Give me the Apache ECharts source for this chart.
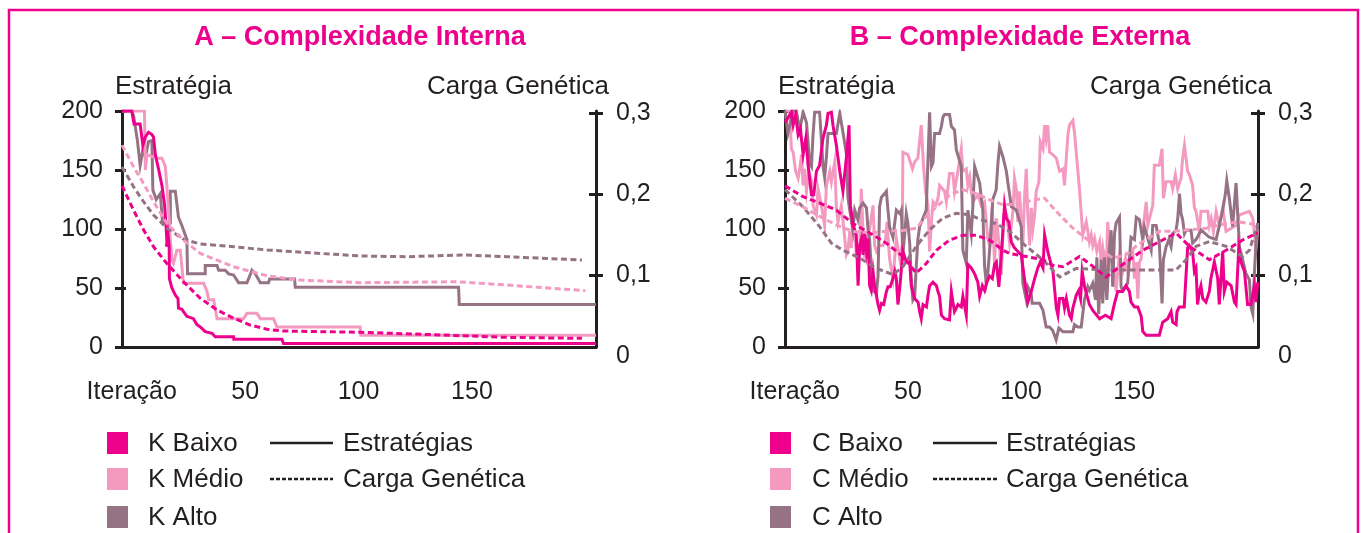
<!DOCTYPE html>
<html>
<head>
<meta charset="utf-8">
<script src="https://cdn.jsdelivr.net/npm/echarts@6/dist/echarts.min.js"></script>
<style>
html,body{margin:0;padding:0;background:#fff;}
#c{width:1364px;height:533px;}
</style>
</head>
<body>
<div id="c"></div>
<script>
// ---------- DATA ----------
const xTickValues = [0, 50, 100, 150];
const xZeroLabel = 'Iteração';
const leftTicks = { min: 0, max: 200, interval: 50 };
const rightRange = { min: 0.0117, max: 0.3031 };
const rightTickValues = [0.1, 0.2, 0.3];
const rightZeroLabel = '0';

const seriesNamesA = ['K Baixo', 'K Médio', 'K Alto'];
const seriesNamesB = ['C Baixo', 'C Médio', 'C Alto'];
const lineKeyNames = ['Estratégias', 'Carga Genética'];

// Panel A – Estratégias (left axis)
const kBaixoEstr = [[-4.3,200],[0,200],[1,189],[3.7,189],[4.9,171],[6,178],[7.4,182],[8.9,180],[9.6,178],[10.4,163],[11.8,151],[13.3,137],[14.5,120],[15.1,103],[15.5,89],[15.3,85],[16,95],[16.5,86],[16.6,58],[17.7,50],[19.2,44],[20.4,41],[20.6,33],[22.1,32],[22.8,30],[23.6,31],[24.3,26],[27.2,24],[28.7,19],[30.2,17],[32.4,13],[35.4,11.6],[36.8,8.7],[44.9,8.7],[45,6.5],[66.2,6.5],[66.9,3],[204.7,3]];
const kMedioEstr = [[-4.3,200],[5.6,200],[6,150],[6.7,163],[11.1,160],[13.3,160],[14.8,153],[15.5,136],[16.2,116],[17,91],[17.7,74],[18.4,71],[19.9,82],[21.4,82],[22.1,68],[22.8,54],[31.7,54],[33.2,47],[33.9,40],[36.1,40],[37.6,24],[49.3,24],[50.8,28.5],[55.2,28.5],[56.7,24],[62.5,24],[64,17],[100.7,17],[101,10],[204.7,10]];
const kAltoEstr = [[-4.3,200],[0,200],[0.8,196],[2.5,175],[3.7,154],[4.9,167],[6,161],[7.4,174],[8.9,175],[9.3,133],[10.8,125],[12.6,130],[13.6,105],[17,105],[17,132],[19.2,132],[20.6,110],[22.1,103],[24.3,91],[24.6,62],[32.4,62],[32.4,69],[37.6,69],[38.3,65],[41.2,65],[42.7,62],[44.9,61],[47.1,54.5],[50.8,54.5],[53,65],[54.5,62],[56.7,54.5],[60.3,54.5],[60.8,57.6],[71.8,57.6],[72.1,50.6],[144.1,50.6],[144.4,36],[204.7,36]];
// Panel A – Carga Genética (right axis)
const kBaixoCarga = [[-4.3,0.2108],[0.8,0.1807],[5.2,0.1564],[9.6,0.1355],[15.5,0.1147],[22.8,0.0923],[30.2,0.0719],[37.6,0.0574],[44.9,0.0472],[52.2,0.0389],[59.6,0.0336],[66.9,0.0314],[100.7,0.0299],[136,0.0266],[165.4,0.0236],[198.5,0.0224]];
const kMedioCarga = [[-4.3,0.261],[0.8,0.2341],[5.2,0.2137],[9.6,0.1911],[15.5,0.1642],[22.8,0.1438],[30.2,0.1273],[44.9,0.1108],[59.6,0.0997],[74.3,0.0943],[100.7,0.0911],[143.4,0.0923],[165.4,0.0882],[200,0.0812]];
const kAltoCarga = [[-4.3,0.2341],[0.8,0.2096],[5.2,0.1911],[9.6,0.1747],[15.5,0.1584],[22.8,0.1448],[30.2,0.1389],[44.9,0.1355],[59.6,0.1315],[100.7,0.1241],[121.3,0.1232],[146.3,0.1253],[165.4,0.1232],[198.5,0.1191]];

// Panel B – Estratégias (left axis)
const cBaixoEstr = [[-4.3,190],[-1.5,199],[-0.7,188],[0.4,197],[1.5,180],[2.5,185],[3.7,163],[4.9,177],[5.9,154],[7.4,129],[8.4,129],[9.6,149],[11,154],[12.5,177],[14,188],[14.7,198],[16.2,199],[16.9,188],[18.4,171],[19.9,149],[21.3,132],[22.8,160],[24,188],[24.6,120],[25.8,103],[27.2,95],[28,52],[28.7,86],[29.5,92],[30.2,78],[30.9,98],[31.7,81],[32.4,92],[33.1,52],[33.8,48],[34.6,64],[35.3,52],[36.8,36],[37.5,31],[38.3,37],[39.3,36],[40.5,47],[41.2,51],[42.2,51],[43.4,58],[44.2,64],[44.9,58],[45.6,36],[46.4,50],[47.8,81],[49.3,72],[50.8,72],[51.5,52],[53,41],[54.5,38],[55.2,30],[55.9,24],[56.7,36],[58.2,34],[58.9,44],[59.6,52],[61.1,55],[62.6,52],[63.3,47],[64,43],[64.8,27],[66.2,24],[68.4,23],[69.2,47],[69.9,38],[70.6,30],[71.4,33],[72.1,36],[73.6,34],[74.3,43],[75.1,43],[75.8,27],[76.5,70],[78,67],[79.5,62],[80.9,55],[81.7,43],[82.9,52],[83.9,48],[84.9,55],[86.1,60],[87.3,58],[88.3,70],[89.1,72],[90.2,51],[91.3,78],[92.7,120],[93.5,109],[94.6,106],[95.7,89],[97.1,84],[98.6,81],[100.1,78],[101.5,58],[102.3,47],[103,38],[104.5,47],[106,58],[107.4,67],[108.5,72],[109.7,67],[110.4,95],[111.8,81],[114.1,64],[115.6,33],[116.3,27],[117,41],[118.5,41],[119.2,33],[120,41],[121.4,27],[122.2,24],[122.9,33],[124.4,44],[125.5,48],[126.3,41],[127,64],[128.1,51],[129.5,41],[130.2,36],[131.7,31],[134.7,24],[137.3,27],[139.8,24],[141.3,37],[142.7,47],[144.9,47],[146.4,52],[147.9,47],[148.6,38],[150.1,34],[151.6,34],[153.1,26],[153.8,13],[155.3,10],[161.1,10],[162.6,21],[164.8,24],[166.3,30],[167,21],[168.5,19],[168.9,30],[169.9,34],[172.1,34],[173.6,84],[174.3,86],[175.8,81],[176.6,64],[177.3,67],[178,36],[178.8,47],[179.5,52],[180.3,41],[181.7,38],[183.2,47],[183.9,58],[185.4,72],[186.9,58],[187.6,36],[189.1,81],[189.8,47],[190.9,55],[192.8,52],[194.3,38],[195,36],[196.2,84],[197.2,72],[198.7,64],[200.1,36],[201.6,36],[203.1,52],[203.8,38],[204.6,55]];
const cMedioEstr = [[-4.3,200],[-2.2,200],[-1.5,168],[-0.7,165],[0.4,149],[1.5,143],[2.2,151],[3,163],[3.7,137],[4.4,151],[5.2,132],[6.3,149],[7.4,140],[8.1,120],[9.6,112],[10.3,134],[11.8,120],[13.2,103],[14,137],[15.5,149],[16.2,140],[17.7,157],[18.4,118],[19.1,106],[20.6,120],[22.1,92],[22.8,78],[23.5,81],[24.3,98],[25,84],[25.7,109],[26.5,98],[27.2,78],[28.7,81],[29.4,134],[30.2,98],[30.9,75],[31.7,86],[33.1,100],[34.6,120],[35.3,86],[36.1,81],[37.5,86],[39,86],[40.2,92],[40.8,106],[41.9,75],[43.4,58],[44.9,92],[46.4,75],[47.5,86],[47.8,165],[50,163],[52,151],[53,157],[54.4,160],[55.9,188],[57,151],[57.8,132],[58.9,120],[59.6,81],[60.4,106],[61.1,123],[62.3,120],[63.3,126],[64,137],[66.2,132],[67,123],[68.4,147],[69.9,147],[70.6,132],[72.1,149],[73.6,168],[74.3,149],[75.8,151],[76.5,137],[77.3,144],[78,132],[78.7,123],[80.9,129],[82.4,120],[83.9,123],[85.3,92],[86.1,86],[87.3,120],[88.3,70],[89.1,109],[90.5,84],[91.3,61],[92.3,112],[93.7,112],[94.9,89],[96.4,115],[97.1,143],[97.9,134],[98.6,106],[99.3,132],[100.1,106],[100.8,86],[101.5,126],[102.3,151],[103,112],[103.8,86],[104.5,118],[105.2,100],[106,112],[106.7,132],[107.9,140],[108.5,174],[109.7,168],[110.4,188],[111.1,177],[111.8,188],[112.6,165],[114,163],[115.6,160],[117,149],[118.5,151],[119.2,137],[120,160],[120.7,180],[121.4,188],[122.9,192],[123.6,182],[125.8,134],[127.3,95],[128.8,106],[129.5,98],[130.2,89],[131,95],[131.7,86],[132.5,92],[133.5,81],[134.7,89],[135.4,72],[136.1,84],[137.6,64],[138.3,106],[139.1,86],[139.8,75],[140.8,70],[142,47],[142.7,64],[143.5,78],[144.9,64],[146.1,75],[147.1,64],[147.9,75],[149.4,81],[150.1,58],[150.9,72],[151.6,41],[152.3,72],[153.1,75],[153.8,98],[155.3,123],[156,103],[158.2,120],[158.9,154],[161.1,154],[162.3,168],[162.9,126],[164.1,140],[166.3,140],[167,134],[168.2,146],[169.2,134],[170.7,143],[171.4,160],[172.2,171],[173.6,149],[174.4,146],[175.8,137],[176.6,118],[177.3,115],[178.8,98],[179.5,115],[182.5,115],[183.2,103],[184,109],[185,98],[186.2,115],[187.6,103],[189.1,118],[190.6,98],[195,103],[196.5,112],[200.9,115],[202.4,109],[203.8,84],[204.6,100]];
const cAltoEstr = [[-4.3,200],[-3,181],[-0.7,200],[0.7,200],[2.2,184],[3.7,199],[5.2,190],[6.6,156],[7.4,153],[8.1,180],[8.8,199],[11,199],[12.5,153],[13.2,144],[14,161],[14.7,181],[18.4,181],[19.9,198],[20.6,199],[21.3,182],[22.8,164],[23.5,127],[24.3,116],[25.7,99],[26.5,116],[27.9,108],[28.7,118],[30.2,122],[31.7,118],[32.4,99],[33.1,91],[33.9,62],[34.6,48],[36.1,45],[36.8,60],[37.5,119],[38.3,127],[39.7,130],[40.5,132],[41.2,116],[41.9,102],[43.4,93],[44.9,116],[46.4,113],[47.1,116],[47.8,79],[48.6,96],[49.3,113],[50,105],[50.8,88],[51.5,57],[52.2,40],[53,43],[53.7,68],[54.4,91],[55.2,102],[58.1,116],[59.6,199],[60.4,153],[61.1,156],[61.8,181],[64,181],[64.8,187],[65.5,195],[66.2,197],[68.4,197],[69.2,187],[70.6,184],[71.4,167],[73.6,153],[74.3,82],[75.8,71],[76.5,116],[78,96],[78.7,119],[79.5,153],[80.9,144],[81.7,139],[83.1,116],[83.9,68],[84.6,54],[85.3,62],[86.8,99],[87.5,125],[89,133],[89.8,156],[90.5,170],[92,161],[92.7,160],[93.5,149],[94.2,139],[94.9,130],[95.7,119],[97.9,116],[100.1,102],[100.8,54],[102.3,40],[103,51],[104.5,45],[104.9,37],[108.2,37],[109.7,31],[111.1,17],[112.6,17],[114,14],[115.5,6],[116.7,16],[118.5,13],[122.9,13],[123.6,19],[125.1,17],[126.6,17],[128,40],[129.5,51],[130.2,48],[131.7,54],[132.9,40],[133.5,76],[134.3,28],[135.4,74],[136.1,37],[136.9,76],[137.9,40],[139.1,85],[139.8,99],[140.5,51],[141.3,96],[142,105],[143.5,110],[144.2,51],[144.9,48],[147.1,54],[148.6,93],[150.1,91],[150.9,110],[152.3,108],[153.8,91],[154.5,102],[157.5,82],[158.2,103],[159.7,103],[161.1,88],[162.3,37],[162.9,74],[164.1,85],[165.3,91],[166.3,85],[167,96],[168.5,99],[169.2,108],[170,130],[170.7,113],[171.4,108],[172.2,96],[172.9,99],[175.1,99],[175.8,88],[177.3,91],[179.6,99],[183.2,93],[186.2,91],[189.1,116],[190.3,130],[190.9,141],[192.1,125],[193.5,102],[195,139],[196.5,85],[197.9,74],[199.4,62],[200.9,57],[201.6,34],[202.4,28],[203.1,62],[203.8,88],[204.6,105]];
// Panel B – Carga Genética (right axis)
const cBaixoCarga = [[-4.3,0.2108],[3.7,0.1972],[11,0.1895],[18.4,0.1807],[25.7,0.1642],[33.1,0.1525],[40.5,0.1399],[47.8,0.1234],[53.7,0.103],[58.1,0.1147],[62.6,0.1312],[68.4,0.1438],[74.3,0.1496],[80.2,0.1496],[86.1,0.1438],[92,0.1312],[94.9,0.1273],[109.6,0.1195],[114,0.1127],[118.5,0.1108],[125.8,0.1234],[130.2,0.1147],[137.6,0.0981],[143.5,0.1108],[153.8,0.1312],[162.6,0.1438],[168.5,0.1525],[174.4,0.136],[183.2,0.1195],[190.6,0.1312],[197.9,0.1438],[204.6,0.1525]];
const cMedioCarga = [[-4.3,0.1953],[3.7,0.1846],[11,0.1729],[18.4,0.1623],[25.7,0.1545],[33.1,0.1525],[40.5,0.1545],[47.8,0.1555],[53.7,0.1584],[58.1,0.1729],[62.6,0.1846],[68.4,0.1992],[74.3,0.206],[80.2,0.2011],[86.1,0.1933],[92,0.1875],[99.3,0.1875],[105.2,0.1933],[110.4,0.1953],[117,0.1749],[122.9,0.1584],[128.8,0.1457],[134.7,0.1331],[140.5,0.1215],[146.4,0.1253],[151.6,0.138],[158.2,0.1496],[161.1,0.1545],[167,0.1545],[181.8,0.1584],[190.6,0.1642],[196.5,0.1661],[204.6,0.1623]];
const cAltoCarga = [[-4.3,0.206],[3.7,0.1846],[11,0.1603],[16.2,0.1399],[21.3,0.1312],[28.7,0.1215],[36.1,0.1088],[43.4,0.1011],[47.8,0.1108],[53.7,0.136],[59.6,0.1564],[65.5,0.171],[71.4,0.1768],[77.3,0.1749],[83.1,0.1681],[89,0.1642],[94.9,0.1545],[102.3,0.136],[109.6,0.1195],[117,0.0981],[124.4,0.1088],[136.1,0.1069],[153.8,0.1069],[168.5,0.1069],[172.9,0.1195],[177.3,0.136],[183.2,0.1419],[190.6,0.136],[197.9,0.1234],[200.9,0.1312],[204.6,0.1642]];

// ---------- STYLE ----------
const COLORS = ['#EC008C', '#F49AC1', '#957284'];
const INK = '#231F20';
const FONT = 'Liberation Sans';
const FS = 25;     // tick labels
const FS_T = 26;   // other texts
const X_MIN = -4.3, X_MAX = 204.7;

const chart = echarts.init(document.getElementById('c'), null, { renderer: 'canvas' });

const grids = [
  { left: 122, top: 111, width: 474, height: 236 },
  { left: 785, top: 111, width: 473, height: 236 }
];

function xAxisFor(gi) {
  return {
    type: 'value', gridIndex: gi, min: X_MIN, max: X_MAX,
    axisLine: { show: true, onZero: false, lineStyle: { color: INK, width: 3 } },
    axisTick: { show: false },
    splitLine: { show: false },
    axisLabel: {
      customValues: xTickValues,
      formatter: v => (v === 0 ? xZeroLabel : String(v)),
      color: INK, fontSize: FS, fontFamily: FONT, margin: 33
    }
  };
}
function yAxesFor(gi) {
  const lineS = { color: INK, width: 3 };
  const base = { type: 'value', gridIndex: gi, splitLine: { show: false } };
  return [
    Object.assign({}, base, leftTicks, { position: 'left',
      axisLine: { show: true, onZero: false, lineStyle: lineS },
      axisTick: { show: true, length: 7, lineStyle: lineS },
      axisLabel: { color: INK, fontSize: FS, fontFamily: FONT, margin: 19 } }),
    Object.assign({}, base, leftTicks, { position: 'left',
      axisLine: { show: false, onZero: false },
      axisTick: { show: true, inside: true, length: 4, lineStyle: lineS },
      axisLabel: { show: false } }),
    Object.assign({}, base, rightRange, { position: 'right',
      axisLine: { show: true, onZero: false, lineStyle: lineS },
      axisTick: { show: true, length: 7, lineStyle: lineS, customValues: rightTickValues },
      axisLabel: { color: INK, fontSize: FS, fontFamily: FONT, margin: 20, customValues: rightTickValues,
        formatter: v => String(+v.toFixed(2)).replace('.', ',') } }),
    Object.assign({}, base, rightRange, { position: 'right',
      axisLine: { show: false, onZero: false },
      axisTick: { show: true, inside: true, length: 7, lineStyle: lineS, customValues: rightTickValues },
      axisLabel: { show: false } })
  ];
}

function lineSeries(name, data, color, gi, dashed) {
  return {
    type: 'line', name, data,
    xAxisIndex: gi, yAxisIndex: gi * 4 + (dashed ? 2 : 0),
    color, showSymbol: false, symbol: 'none', animation: false,
    z: dashed ? 3 : 2,
    lineStyle: { color, width: 3, type: dashed ? [6, 3.5] : 'solid', cap: 'butt', join: 'miter' }
  };
}

const seriesA = [
  lineSeries(seriesNamesA[2], kAltoEstr, COLORS[2], 0, false),
  lineSeries(seriesNamesA[1], kMedioEstr, COLORS[1], 0, false),
  lineSeries(seriesNamesA[0], kBaixoEstr, COLORS[0], 0, false),
  lineSeries(seriesNamesA[2], kAltoCarga, COLORS[2], 0, true),
  lineSeries(seriesNamesA[1], kMedioCarga, COLORS[1], 0, true),
  lineSeries(seriesNamesA[0], kBaixoCarga, COLORS[0], 0, true)
];
const seriesB = [
  lineSeries(seriesNamesB[1], cMedioEstr, COLORS[1], 1, false),
  lineSeries(seriesNamesB[2], cAltoEstr, COLORS[2], 1, false),
  lineSeries(seriesNamesB[0], cBaixoEstr, COLORS[0], 1, false),
  lineSeries(seriesNamesB[2], cAltoCarga, COLORS[2], 1, true),
  lineSeries(seriesNamesB[1], cMedioCarga, COLORS[1], 1, true),
  lineSeries(seriesNamesB[0], cBaixoCarga, COLORS[0], 1, true)
];

function txt(x, y, text, align, opts) {
  return { type: 'text', x, y, silent: true,
    style: Object.assign({ text, fill: INK, font: `${FS_T}px "${FONT}"`, textAlign: align || 'left', textVerticalAlign: 'middle' }, opts || {}) };
}
function keyLine(x1, x2, y, dash) {
  return { type: 'line', silent: true, shape: { x1, y1: y, x2, y2: y },
    style: { stroke: INK, lineWidth: 2.5, lineDash: dash || null } };
}
const legendRowsY = [444, 480, 518];
function colorLegend(names, xSq, xTxt) {
  const out = [];
  names.forEach((n, i) => {
    out.push({ type: 'rect', silent: true, shape: { x: xSq, y: legendRowsY[i] - 12, width: 21, height: 22 }, style: { fill: COLORS[i] } });
    out.push(txt(xTxt, legendRowsY[i], n, 'left'));
  });
  return out;
}
function styleLegend(x1, x2, xTxt) {
  return [
    keyLine(x1, x2, legendRowsY[0] - 1), txt(xTxt, legendRowsY[0], lineKeyNames[0], 'left'),
    keyLine(x1, x2, legendRowsY[1] - 1, [4, 2]), txt(xTxt, legendRowsY[1], lineKeyNames[1], 'left')
  ];
}
// "0" label of the right axis sits just below the bottom of the axis
function rightZero(gi) {
  const g = grids[gi];
  return txt(g.left + g.width + 20, 356, rightZeroLabel, 'left', { font: `${FS}px "${FONT}"` });
}

const titleFont = `bold 27px "${FONT}"`;
const graphics = [
  { type: 'rect', silent: true, shape: { x: 9, y: 10, width: 1349, height: 560 }, style: { fill: 'none', stroke: '#EC008C', lineWidth: 2.5 } },
  txt(360, 38, 'A – Complexidade Interna', 'center', { fill: '#EC008C', font: titleFont }),
  txt(1020, 38, 'B – Complexidade Externa', 'center', { fill: '#EC008C', font: titleFont }),
  txt(115, 87, 'Estratégia', 'left'),
  txt(609, 87, 'Carga Genética', 'right'),
  txt(778, 87, 'Estratégia', 'left'),
  txt(1272, 87, 'Carga Genética', 'right'),
  rightZero(0), rightZero(1)
].concat(colorLegend(seriesNamesA, 107, 148), styleLegend(270, 333, 343),
         colorLegend(seriesNamesB, 770, 812), styleLegend(933, 997, 1006));

chart.setOption({
  animation: false,
  backgroundColor: '#ffffff',
  grid: grids,
  xAxis: [xAxisFor(0), xAxisFor(1)],
  yAxis: yAxesFor(0).concat(yAxesFor(1)),
  series: seriesA.concat(seriesB),
  graphic: graphics
});
</script>
</body>
</html>
